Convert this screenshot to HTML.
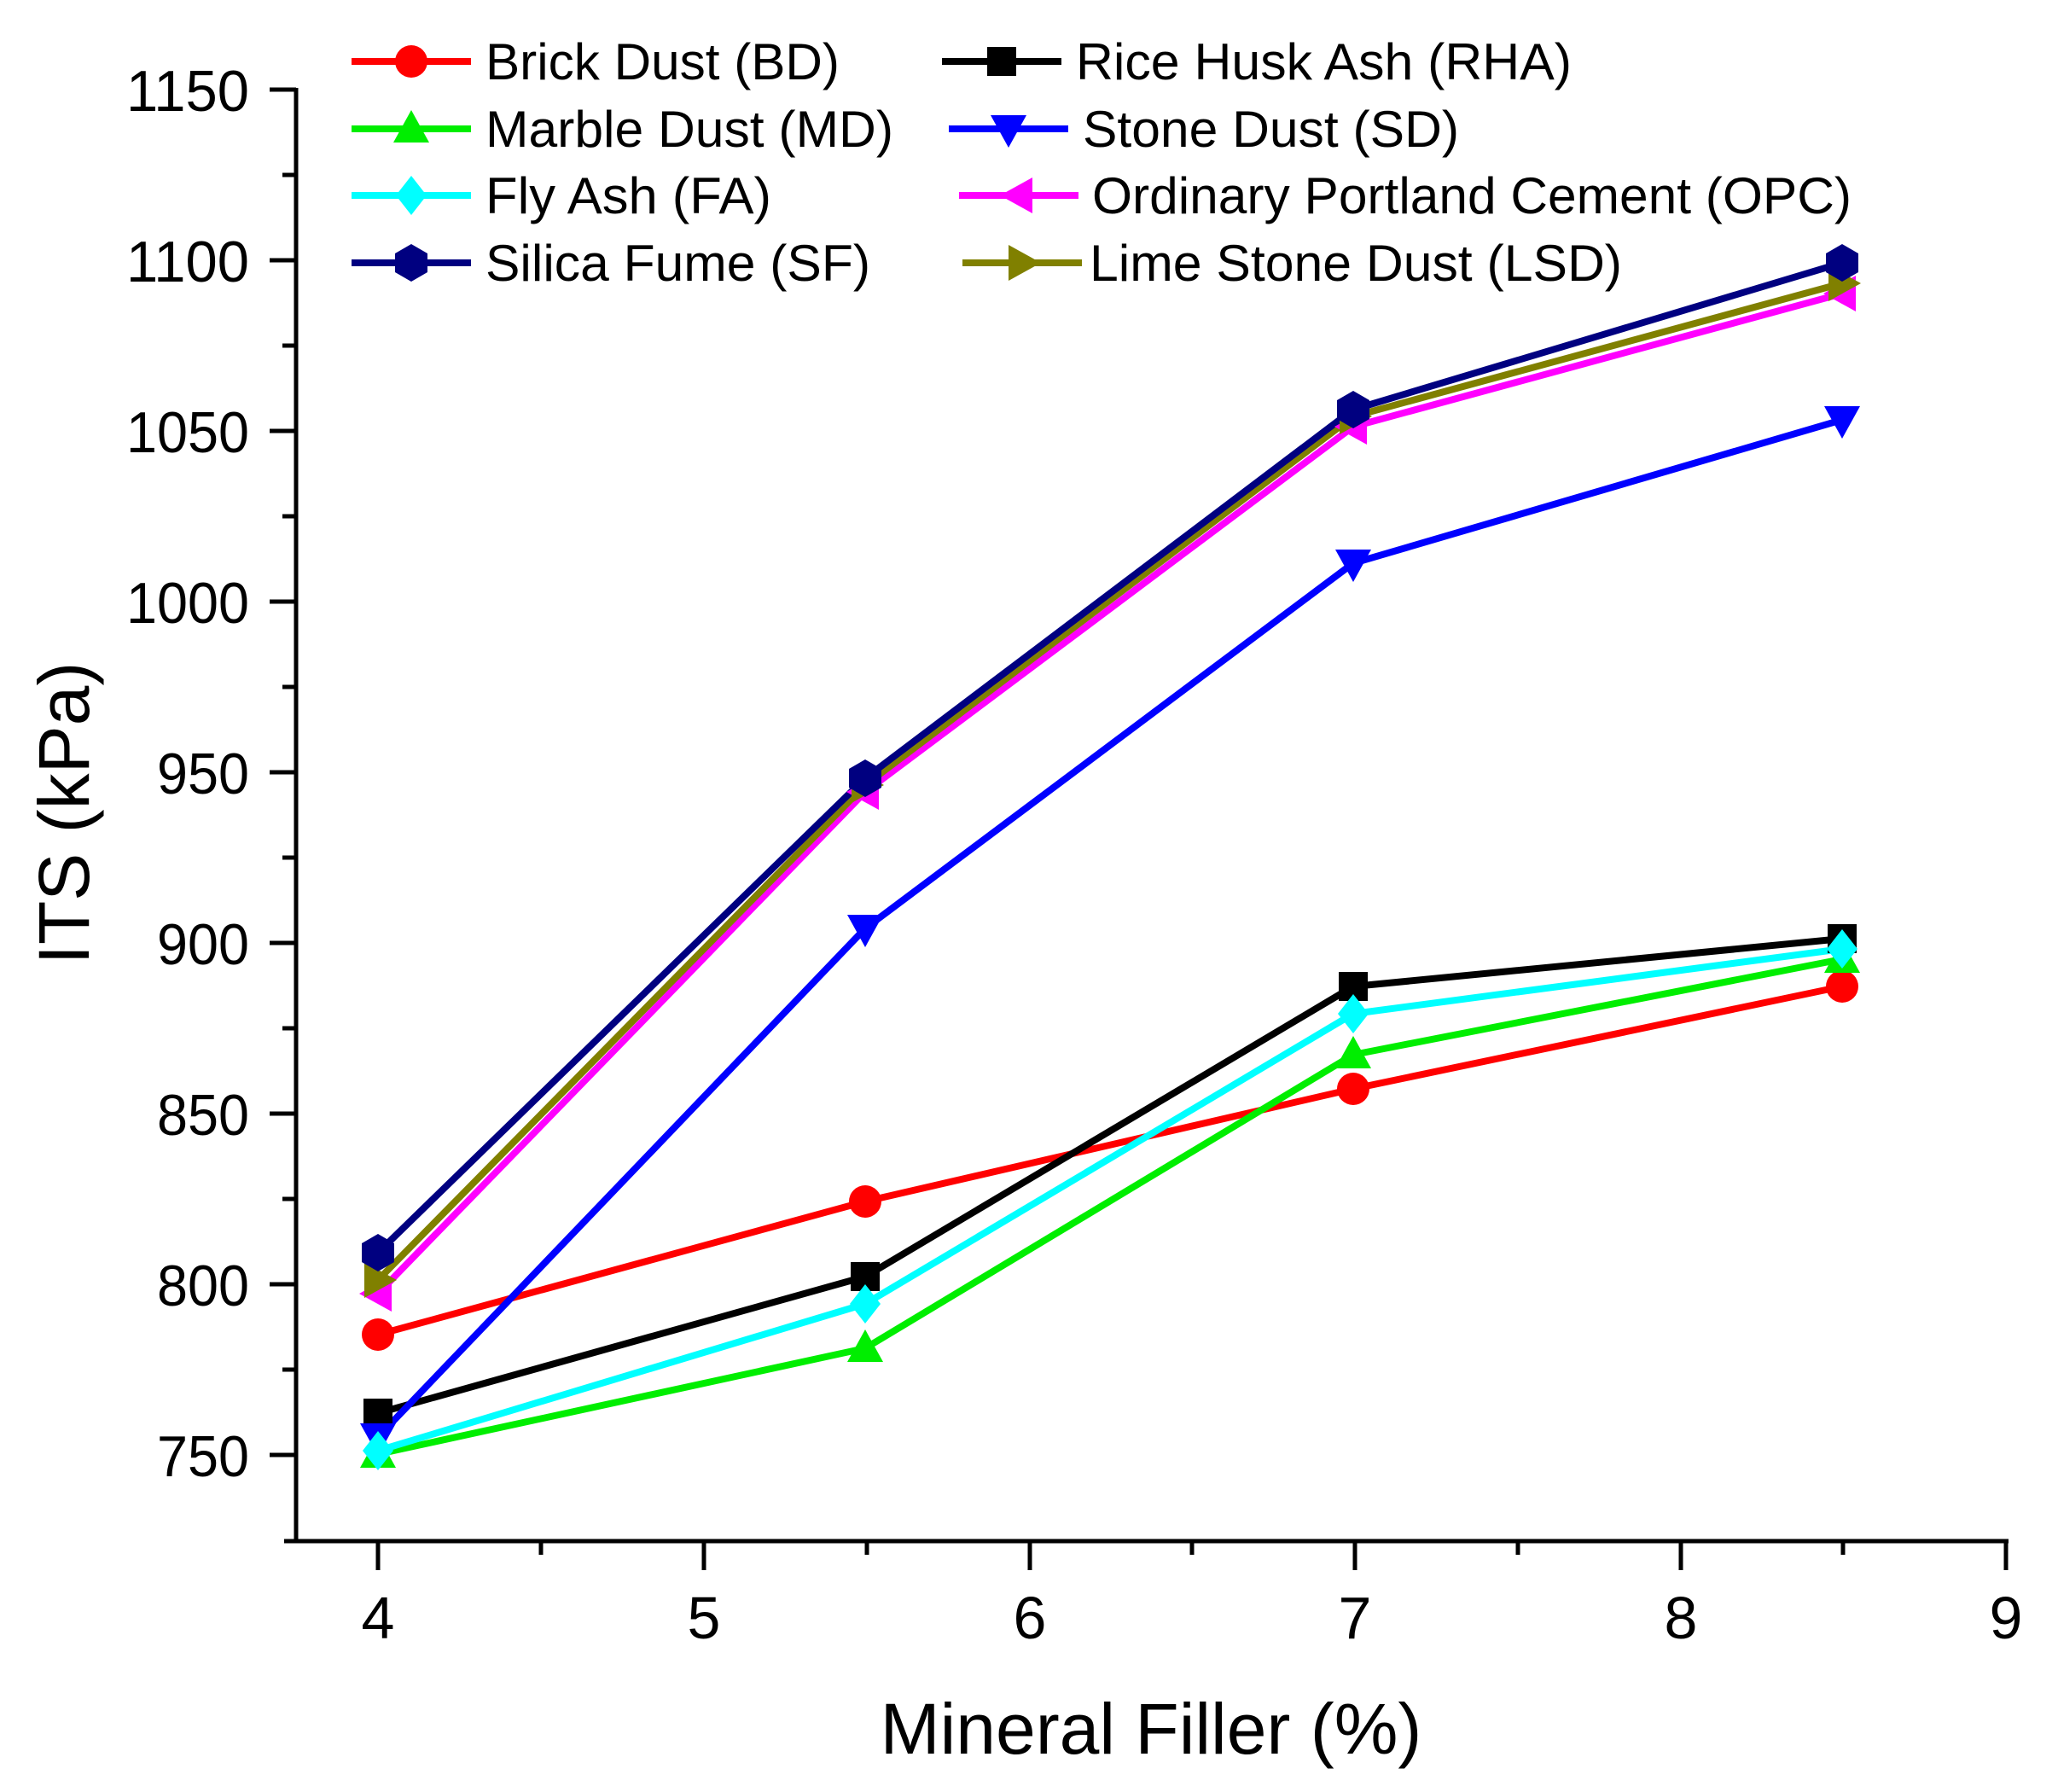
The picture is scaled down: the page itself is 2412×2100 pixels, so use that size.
<!DOCTYPE html>
<html><head><meta charset="utf-8"><style>
html,body{margin:0;padding:0;background:#fff;}
svg{display:block;}
text{font-family:"Liberation Sans",Arial,sans-serif;fill:#000;}
</style></head><body>
<svg width="2412" height="2100" viewBox="0 0 2412 2100" xmlns="http://www.w3.org/2000/svg">
<defs>
<circle id="mc" r="19"/>
<rect id="ms" x="-17" y="-17" width="34" height="34"/>
<polygon id="mtu" points="0,-22 21,16 -21,16"/>
<polygon id="mtd" points="0,22 21,-16 -21,-16"/>
<polygon id="md" points="0,-23 18,0 0,23 -18,0"/>
<polygon id="mtl" points="-22,0 16,-21 16,21"/>
<polygon id="mtr" points="22,0 -16,-21 -16,21"/>
<polygon id="mh" points="0,-22 19,-11 19,11 0,22 -19,11 -19,-11"/>
</defs>

<g stroke="#000" stroke-width="5" fill="none">
<line x1="347" y1="103" x2="347" y2="1808"/>
<line x1="333" y1="1806" x2="2354" y2="1806"/>
<line x1="316" y1="105" x2="347" y2="105"/>
<line x1="316" y1="305" x2="347" y2="305"/>
<line x1="316" y1="505" x2="347" y2="505"/>
<line x1="316" y1="705" x2="347" y2="705"/>
<line x1="316" y1="905" x2="347" y2="905"/>
<line x1="316" y1="1105" x2="347" y2="1105"/>
<line x1="316" y1="1305" x2="347" y2="1305"/>
<line x1="316" y1="1505" x2="347" y2="1505"/>
<line x1="316" y1="1705" x2="347" y2="1705"/>
<line x1="331" y1="205" x2="347" y2="205"/>
<line x1="331" y1="405" x2="347" y2="405"/>
<line x1="331" y1="605" x2="347" y2="605"/>
<line x1="331" y1="805" x2="347" y2="805"/>
<line x1="331" y1="1005" x2="347" y2="1005"/>
<line x1="331" y1="1205" x2="347" y2="1205"/>
<line x1="331" y1="1405" x2="347" y2="1405"/>
<line x1="331" y1="1605" x2="347" y2="1605"/>
<line x1="443" y1="1806" x2="443" y2="1840"/>
<line x1="825" y1="1806" x2="825" y2="1840"/>
<line x1="1207" y1="1806" x2="1207" y2="1840"/>
<line x1="1588" y1="1806" x2="1588" y2="1840"/>
<line x1="1970" y1="1806" x2="1970" y2="1840"/>
<line x1="2351" y1="1806" x2="2351" y2="1840"/>
<line x1="634" y1="1806" x2="634" y2="1822"/>
<line x1="1016" y1="1806" x2="1016" y2="1822"/>
<line x1="1397" y1="1806" x2="1397" y2="1822"/>
<line x1="1779" y1="1806" x2="1779" y2="1822"/>
<line x1="2160" y1="1806" x2="2160" y2="1822"/>
</g>

<g font-size="68" text-anchor="end">
<text x="292" y="130" textLength="144" lengthAdjust="spacingAndGlyphs">1150</text>
<text x="292" y="330" textLength="144" lengthAdjust="spacingAndGlyphs">1100</text>
<text x="292" y="530" textLength="144" lengthAdjust="spacingAndGlyphs">1050</text>
<text x="292" y="730" textLength="144" lengthAdjust="spacingAndGlyphs">1000</text>
<text x="292" y="930" textLength="108" lengthAdjust="spacingAndGlyphs">950</text>
<text x="292" y="1130" textLength="108" lengthAdjust="spacingAndGlyphs">900</text>
<text x="292" y="1330" textLength="108" lengthAdjust="spacingAndGlyphs">850</text>
<text x="292" y="1530" textLength="108" lengthAdjust="spacingAndGlyphs">800</text>
<text x="292" y="1730" textLength="108" lengthAdjust="spacingAndGlyphs">750</text>
</g>
<g font-size="70" text-anchor="middle">
<text x="443" y="1920">4</text>
<text x="825" y="1920">5</text>
<text x="1207" y="1920">6</text>
<text x="1588" y="1920">7</text>
<text x="1970" y="1920">8</text>
<text x="2351" y="1920">9</text>
</g>
<text x="1349" y="2055" font-size="84" text-anchor="middle">Mineral Filler (%)</text>
<text transform="translate(104,953) rotate(-90)" font-size="84" text-anchor="middle">ITS (kPa)</text>

<g fill="none" stroke-width="8" stroke-linejoin="round">
<polyline stroke="#ff0000" points="443,1564 1014,1408 1586,1276 2159,1156"/>
<polyline stroke="#000000" points="443,1656 1014,1496 1586,1156 2159,1100"/>
<polyline stroke="#00ee00" points="443,1704 1014,1580 1586,1236 2159,1124"/>
<polyline stroke="#0000ff" points="443,1684 1014,1088 1586,660 2159,492"/>
<polyline stroke="#00ffff" points="443,1700 1014,1528 1586,1188 2159,1112"/>
<polyline stroke="#ff00ff" points="443,1516 1014,928 1586,500 2159,344"/>
<polyline stroke="#808000" points="443,1500 1014,920 1586,488 2159,332"/>
<polyline stroke="#000080" points="443,1468 1014,912 1586,480 2159,308"/>
</g>
<g fill="#ff0000"><use href="#mc" x="443" y="1564"/><use href="#mc" x="1014" y="1408"/><use href="#mc" x="1586" y="1276"/><use href="#mc" x="2159" y="1156"/></g>
<g fill="#000"><use href="#ms" x="443" y="1656"/><use href="#ms" x="1014" y="1496"/><use href="#ms" x="1586" y="1156"/><use href="#ms" x="2159" y="1100"/></g>
<g fill="#00ee00"><use href="#mtu" x="443" y="1704"/><use href="#mtu" x="1014" y="1580"/><use href="#mtu" x="1586" y="1236"/><use href="#mtu" x="2159" y="1124"/></g>
<g fill="#0000ff"><use href="#mtd" x="443" y="1684"/><use href="#mtd" x="1014" y="1088"/><use href="#mtd" x="1586" y="660"/><use href="#mtd" x="2159" y="492"/></g>
<g fill="#00ffff"><use href="#md" x="443" y="1700"/><use href="#md" x="1014" y="1528"/><use href="#md" x="1586" y="1188"/><use href="#md" x="2159" y="1112"/></g>
<g fill="#ff00ff"><use href="#mtl" x="443" y="1516"/><use href="#mtl" x="1014" y="928"/><use href="#mtl" x="1586" y="500"/><use href="#mtl" x="2159" y="344"/></g>
<g fill="#808000"><use href="#mtr" x="443" y="1500"/><use href="#mtr" x="1014" y="920"/><use href="#mtr" x="1586" y="488"/><use href="#mtr" x="2159" y="332"/></g>
<g fill="#000080"><use href="#mh" x="443" y="1468"/><use href="#mh" x="1014" y="912"/><use href="#mh" x="1586" y="480"/><use href="#mh" x="2159" y="308"/></g>

<g stroke-width="8" fill="none">
<line x1="412" y1="72" x2="552" y2="72" stroke="#ff0000"/>
<line x1="412" y1="151" x2="552" y2="151" stroke="#00ee00"/>
<line x1="412" y1="229" x2="552" y2="229" stroke="#00ffff"/>
<line x1="412" y1="308" x2="552" y2="308" stroke="#000080"/>
<line x1="1104" y1="72" x2="1244" y2="72" stroke="#000"/>
<line x1="1112" y1="151" x2="1252" y2="151" stroke="#0000ff"/>
<line x1="1124" y1="229" x2="1264" y2="229" stroke="#ff00ff"/>
<line x1="1128" y1="308" x2="1268" y2="308" stroke="#808000"/>
</g>
<use href="#mc" x="482" y="72" fill="#ff0000"/>
<use href="#mtu" x="482" y="151" fill="#00ee00"/>
<use href="#md" x="482" y="229" fill="#00ffff"/>
<use href="#mh" x="482" y="308" fill="#000080"/>
<use href="#ms" x="1174" y="72" fill="#000"/>
<use href="#mtd" x="1182" y="151" fill="#0000ff"/>
<use href="#mtl" x="1194" y="229" fill="#ff00ff"/>
<use href="#mtr" x="1198" y="308" fill="#808000"/>
<g font-size="60">
<text x="569" y="93" textLength="415" lengthAdjust="spacingAndGlyphs">Brick Dust (BD)</text>
<text x="569" y="172" textLength="478" lengthAdjust="spacingAndGlyphs">Marble Dust (MD)</text>
<text x="569" y="250" textLength="335" lengthAdjust="spacingAndGlyphs">Fly Ash (FA)</text>
<text x="569" y="329" textLength="451" lengthAdjust="spacingAndGlyphs">Silica Fume (SF)</text>
<text x="1261" y="93" textLength="581" lengthAdjust="spacingAndGlyphs">Rice Husk Ash (RHA)</text>
<text x="1269" y="172" textLength="441" lengthAdjust="spacingAndGlyphs">Stone Dust (SD)</text>
<text x="1280" y="250" textLength="890" lengthAdjust="spacingAndGlyphs">Ordinary Portland Cement (OPC)</text>
<text x="1277" y="329" textLength="624" lengthAdjust="spacingAndGlyphs">Lime Stone Dust (LSD)</text>
</g>
</svg>
</body></html>
